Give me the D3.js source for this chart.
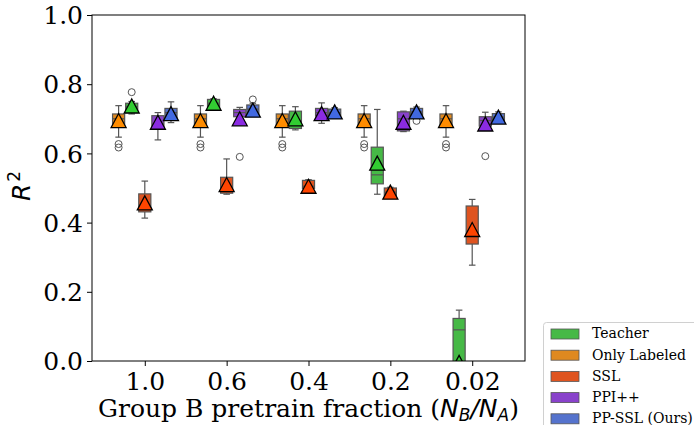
<!DOCTYPE html>
<html>
<head>
<meta charset="utf-8">
<script src="https://cdn.jsdelivr.net/npm/d3@7"></script>
<style>
  body { margin: 0; background: #fff; }
  svg { display: block; }
</style>
</head>
<body>
<svg id="chart" width="694" height="425"></svg>
<script>
// pretrain fractions on the x axis
const categories = ['1.0', '0.6', '0.4', '0.2', '0.02'];

// methods, in the order they are dodged within a group
const methods = ['Only Labeled', 'Teacher', 'SSL', 'PPI++', 'PP-SSL (Ours)'];
// order of the legend
const legendOrder = ['Teacher', 'Only Labeled', 'SSL', 'PPI++', 'PP-SSL (Ours)'];

// box colour (desaturated) and mean marker colour
const boxColors = {
    'Teacher': '#46b946',
    'Only Labeled': '#df8920',
    'SSL': '#df5420',
    'PPI++': '#8942cb',
    'PP-SSL (Ours)': '#5573cd'
};
const meanColors = {
    'Teacher': '#32cd32',
    'Only Labeled': '#ff8c00',
    'SSL': '#ff4500',
    'PPI++': '#8a2be2',
    'PP-SSL (Ours)': '#4169e1'
};

// box stats per category: [whisker low, q1, median, q3, whisker high, mean]
const onlyLabeled = [
    [0.647, 0.677, 0.700, 0.714, 0.738, 0.695],
    [0.647, 0.677, 0.700, 0.714, 0.738, 0.695],
    [0.647, 0.677, 0.700, 0.714, 0.738, 0.695],
    [0.647, 0.677, 0.700, 0.714, 0.738, 0.695],
    [0.647, 0.677, 0.700, 0.714, 0.738, 0.695]
];
const teacher = [
    [0.714, 0.718, 0.735, 0.745, 0.750, 0.737],
    [0.732, 0.734, 0.745, 0.756, 0.758, 0.745],
    [0.668, 0.672, 0.695, 0.722, 0.735, 0.700],
    [0.482, 0.512, 0.538, 0.618, 0.727, 0.572],
    [-0.60, -0.20, 0.090, 0.123, 0.147, -0.004]
];
const ssl = [
    [0.413, 0.431, 0.442, 0.483, 0.520, 0.457],
    [0.482, 0.485, 0.494, 0.531, 0.584, 0.510],
    [0.497, 0.499, 0.505, 0.522, 0.524, 0.505],
    [0.476, 0.478, 0.488, 0.500, 0.502, 0.488],
    [0.277, 0.338, 0.366, 0.448, 0.467, 0.380]
];
const ppi = [
    [0.639, 0.670, 0.685, 0.709, 0.718, 0.690],
    [0.700, 0.706, 0.718, 0.727, 0.733, 0.700],
    [0.687, 0.708, 0.718, 0.730, 0.746, 0.715],
    [0.663, 0.665, 0.700, 0.720, 0.722, 0.690],
    [0.675, 0.679, 0.695, 0.706, 0.719, 0.685]
];
const ppssl = [
    [0.689, 0.699, 0.718, 0.730, 0.749, 0.715],
    [0.708, 0.711, 0.728, 0.740, 0.745, 0.725],
    [0.708, 0.710, 0.718, 0.728, 0.732, 0.720],
    [0.706, 0.710, 0.720, 0.730, 0.734, 0.720],
    [0.692, 0.694, 0.705, 0.715, 0.720, 0.705]
];

// outliers per category
const onlyLabeledOut = [[0.627, 0.617], [0.627, 0.617], [0.627, 0.617], [0.627, 0.617], [0.627, 0.617]];
const teacherOut = [[0.777], [], [], [], []];
const sslOut = [[], [], [], [], []];
const ppiOut = [[], [0.590], [], [], [0.592]];
const ppsslOut = [[], [0.756], [], [0.694], []];

const stats = {
    'Only Labeled': onlyLabeled,
    'Teacher': teacher,
    'SSL': ssl,
    'PPI++': ppi,
    'PP-SSL (Ours)': ppssl
};
const outliers = {
    'Only Labeled': onlyLabeledOut,
    'Teacher': teacherOut,
    'SSL': sslOut,
    'PPI++': ppiOut,
    'PP-SSL (Ours)': ppsslOut
};

const yTicks = [0, 0.2, 0.4, 0.6, 0.8, 1.0];

const margin = { top: 15, right: 169, bottom: 64, left: 92 };
const width = 694, height = 425;
const innerW = width - margin.left - margin.right;
const innerH = height - margin.top - margin.bottom;

const svg = d3.select('#chart');
const serif = "'DejaVu Serif', serif";
const sans = "'DejaVu Sans', sans-serif";
const fontSize = 25;

const x = d3.scaleLinear()
    .domain([-0.645, categories.length - 1 + 0.645])
    .range([0, innerW]);
const y = d3.scaleLinear()
    .domain([0, 1])
    .range([innerH, 0]);

const groupWidth = 0.8;
const boxStep = groupWidth / methods.length;
const boxW = x(boxStep) - x(0);

svg.append('defs').append('clipPath')
    .attr('id', 'plot-clip')
  .append('rect')
    .attr('width', innerW)
    .attr('height', innerH);

const chart = svg.append('g')
    .attr('transform', `translate(${margin.left}, ${margin.top})`);

const plot = chart.append('g').attr('clip-path', 'url(#plot-clip)');

const edge = '#555';

methods.forEach((m, mi) => {
    const offset = -groupWidth / 2 + boxStep * (mi + 0.5);
    stats[m].forEach((s, ci) => {
        const [lo, q1, med, q3, hi, mean] = s;
        const cx = x(ci + offset);
        const g = plot.append('g').attr('class', 'box');
        const capW = boxW * 0.5;

        g.append('line')
            .attr('x1', cx).attr('x2', cx)
            .attr('y1', y(q3)).attr('y2', y(hi))
            .attr('stroke', edge).attr('stroke-width', 1.2);
        g.append('line')
            .attr('x1', cx).attr('x2', cx)
            .attr('y1', y(q1)).attr('y2', y(lo))
            .attr('stroke', edge).attr('stroke-width', 1.2);
        [lo, hi].forEach(v => {
            g.append('line')
                .attr('x1', cx - capW / 2).attr('x2', cx + capW / 2)
                .attr('y1', y(v)).attr('y2', y(v))
                .attr('stroke', edge).attr('stroke-width', 1.2);
        });

        g.append('rect')
            .attr('x', cx - boxW / 2 + 0.5)
            .attr('width', boxW - 1)
            .attr('y', y(q3))
            .attr('height', Math.max(0.5, y(q1) - y(q3)))
            .attr('fill', boxColors[m])
            .attr('stroke', edge)
            .attr('stroke-width', 1.2);

        g.append('line')
            .attr('x1', cx - boxW / 2 + 0.5).attr('x2', cx + boxW / 2 - 0.5)
            .attr('y1', y(med)).attr('y2', y(med))
            .attr('stroke', edge).attr('stroke-width', 1.2);

        outliers[m][ci].forEach(v => {
            g.append('circle')
                .attr('cx', cx).attr('cy', y(v))
                .attr('r', 3.5)
                .attr('fill', 'none')
                .attr('stroke', edge)
                .attr('stroke-width', 1);
        });

        const tw = 15, th = 14;
        const my = y(mean);
        g.append('path')
            .attr('d', `M${cx},${my - th / 2}L${cx - tw / 2},${my + th / 2}L${cx + tw / 2},${my + th / 2}Z`)
            .attr('fill', meanColors[m])
            .attr('stroke', '#000')
            .attr('stroke-width', 1.3)
            .attr('stroke-linejoin', 'miter');
    });
});

// axes
const xAxis = d3.axisBottom(x)
    .tickValues(d3.range(categories.length))
    .tickFormat(i => categories[i])
    .tickSize(5)
    .tickSizeOuter(0);
const yAxis = d3.axisLeft(y)
    .tickValues(yTicks)
    .tickFormat(d3.format('.1f'))
    .tickSize(5)
    .tickSizeOuter(0);

const gx = chart.append('g')
    .attr('transform', `translate(0, ${innerH})`)
    .call(xAxis);
const gy = chart.append('g').call(yAxis);

[gx, gy].forEach(g => {
    g.select('.domain').remove();
    g.selectAll('.tick line').attr('stroke', '#000').attr('stroke-width', 1);
    g.selectAll('.tick text')
        .attr('fill', '#000')
        .style('font-family', serif)
        .style('font-size', fontSize + 'px');
});
gx.selectAll('.tick text').attr('y', 29).attr('dy', null);
gy.selectAll('.tick text').attr('x', -9).attr('dy', '0.35em');

chart.append('rect')
    .attr('width', innerW)
    .attr('height', innerH)
    .attr('fill', 'none')
    .attr('stroke', '#000')
    .attr('stroke-width', 1);

// x label
const xl = chart.append('text')
    .attr('x', innerW / 2)
    .attr('y', innerH + 56)
    .attr('text-anchor', 'middle')
    .style('font-family', serif)
    .style('font-size', fontSize + 'px')
    .attr('fill', '#000');
xl.append('tspan').text('Group B pretrain fraction (');
xl.append('tspan').style('font-family', sans).style('font-style', 'italic').text('N');
xl.append('tspan').style('font-family', sans).style('font-style', 'italic')
    .style('font-size', '17px').attr('dy', 4).text('B');
xl.append('tspan').style('font-family', sans).style('font-style', 'italic')
    .attr('dy', -4).text('/N');
xl.append('tspan').style('font-family', sans).style('font-style', 'italic')
    .style('font-size', '17px').attr('dy', 4).text('A');
xl.append('tspan').attr('dy', -4).text(')');

// y label
const yl = chart.append('text')
    .attr('transform', `translate(-62, ${innerH / 2 - 2}) rotate(-90)`)
    .attr('text-anchor', 'middle')
    .style('font-family', sans)
    .style('font-size', fontSize + 'px')
    .attr('fill', '#000');
yl.append('tspan').style('font-style', 'italic').text('R');
yl.append('tspan').style('font-size', '17px').attr('dy', -10).attr('dx', 2).text('2');

// legend
const legend = svg.append('g')
    .attr('transform', 'translate(543, 322)');
legend.append('rect')
    .attr('x', 0.5).attr('y', 0.5)
    .attr('width', 160).attr('height', 112)
    .attr('rx', 3)
    .attr('fill', '#fff')
    .attr('fill-opacity', 0.8)
    .attr('stroke', '#d0d0d0');
legendOrder.forEach((m, i) => {
    const row = legend.append('g')
        .attr('transform', `translate(8, ${12 + i * 21.2})`);
    row.append('rect')
        .attr('x', 0).attr('y', -5)
        .attr('width', 28).attr('height', 10)
        .attr('fill', boxColors[m])
        .attr('stroke', edge)
        .attr('stroke-width', 0.8);
    row.append('text')
        .attr('x', 41).attr('y', 0)
        .attr('dy', '0.32em')
        .style('font-family', serif)
        .style('font-size', '14px')
        .attr('fill', '#000')
        .text(m);
});
</script>
</body>
</html>
